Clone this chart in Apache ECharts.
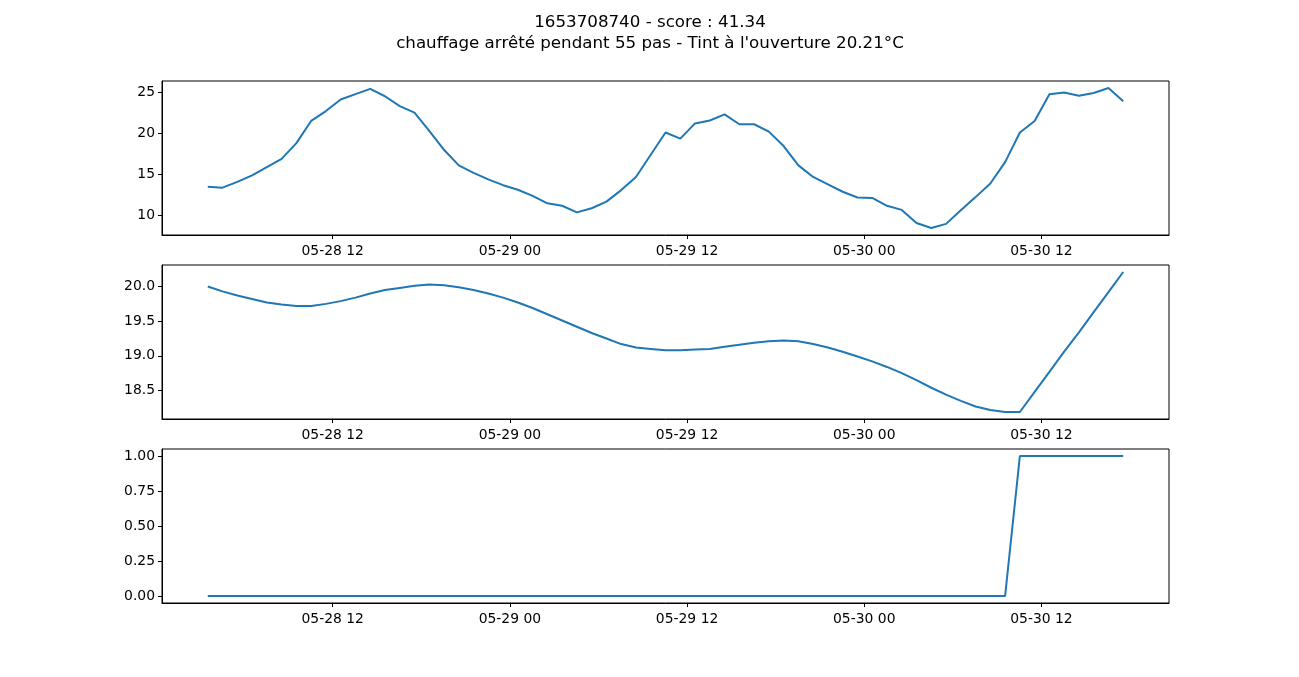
<!DOCTYPE html>
<html>
<head>
<meta charset="utf-8">
<script src="https://cdn.jsdelivr.net/npm/echarts@6/dist/echarts.min.js"></script>
<style>
html,body{margin:0;padding:0;background:#fff;}
#chart{width:1299px;height:677px;}
</style>
</head>
<body>
<div id="chart"></div>
<script>
// ---- data ----
const startTs = 1653708740 * 1000; // first sample (UTC)
const stepMs = 3600 * 1000;        // one step = 1 hour
const tempExt = [13.5,13.4,14.1,14.9,15.9,16.9,18.8,21.5,22.7,24.1,24.75,25.4,24.5,23.3,22.5,20.3,18.0,16.1,15.2,14.4,13.7,13.15,12.4,11.5,11.2,10.4,10.9,11.7,13.1,14.7,17.4,20.1,19.35,21.2,21.55,22.3,21.1,21.1,20.2,18.45,16.1,14.7,13.8,12.9,12.2,12.15,11.2,10.7,9.1,8.5,9.0,10.65,12.25,13.9,16.5,20.1,21.5,24.75,24.95,24.55,24.9,25.5,23.9];
const tempInt = [20.00,19.93,19.87,19.82,19.77,19.74,19.72,19.72,19.75,19.79,19.84,19.90,19.95,19.98,20.01,20.03,20.02,19.99,19.95,19.90,19.84,19.77,19.69,19.60,19.51,19.42,19.33,19.25,19.17,19.12,19.10,19.08,19.08,19.09,19.10,19.13,19.16,19.19,19.21,19.22,19.21,19.17,19.12,19.06,18.99,18.92,18.84,18.75,18.65,18.54,18.44,18.35,18.27,18.22,18.19,18.19,18.48,18.77,19.06,19.34,19.63,19.92,20.21];
const heating = [0,0,0,0,0,0,0,0,0,0,0,0,0,0,0,0,0,0,0,0,0,0,0,0,0,0,0,0,0,0,0,0,0,0,0,0,0,0,0,0,0,0,0,0,0,0,0,0,0,0,0,0,0,0,0,1,1,1,1,1,1,1,1];
const xTickValues = [Date.UTC(2022,4,28,12), Date.UTC(2022,4,29,0), Date.UTC(2022,4,29,12), Date.UTC(2022,4,30,0), Date.UTC(2022,4,30,12)];
const xTickLabels = ['05-28 12','05-29 00','05-29 12','05-30 00','05-30 12'];
const y1Ticks = [10,15,20,25];
const y2Ticks = [18.5,19.0,19.5,20.0];
const y3Ticks = [0,0.25,0.5,0.75,1.0];
const titleText = '1653708740 - score : 41.34\nchauffage arrêté pendant 55 pas - Tint à l\'ouverture 20.21°C';

// ---- build ----
const times = tempExt.map((_, i) => startTs + i * stepMs);
const pair = arr => arr.map((v, i) => [times[i], v]);
function padRange(arr){
  const mn = Math.min(...arr), mx = Math.max(...arr), p = (mx - mn) * 0.05;
  return [mn - p, mx + p];
}
const xMin = times[0] - (times[times.length-1]-times[0]) * 0.05;
const xMax = times[times.length-1] + (times[times.length-1]-times[0]) * 0.05;

const FONT = 'DejaVu Sans';
const FS = 13.9;
const tops = [81, 265, 449];
const H = 154;

const grids = tops.map(t => ({
  left: 162, top: t, width: 1007, height: H,
  show: true, borderColor: '#000', borderWidth: 1, backgroundColor: 'transparent'
}));

const xAxes = tops.map((t, k) => ({
  type: 'value', gridIndex: k, min: xMin, max: xMax,
  axisLine: {show: true, onZero: false, lineStyle: {color: '#000', width: 1}},
  axisTick: {show: true, inside: false, length: 4, lineStyle: {color: '#000'}, customValues: xTickValues},
  axisLabel: {show: true, margin: 9, color: '#000', fontFamily: FONT, fontSize: FS,
    customValues: xTickValues,
    formatter: v => { const j = xTickValues.indexOf(v); return j >= 0 ? xTickLabels[j] : ''; }},
  splitLine: {show: false}
}));

const yDefs = [
  {data: tempExt, ticks: y1Ticks, dec: 0},
  {data: tempInt, ticks: y2Ticks, dec: 1},
  {data: heating, ticks: y3Ticks, dec: 2}
];
const yAxes = yDefs.map((d, k) => {
  const r = padRange(d.data);
  return {
    type: 'value', gridIndex: k, min: r[0], max: r[1],
    axisLine: {show: true, lineStyle: {color: '#000', width: 1}},
    axisTick: {show: true, inside: false, length: 4, lineStyle: {color: '#000'}, customValues: d.ticks},
    axisLabel: {show: true, margin: 7, color: '#000', fontFamily: FONT, fontSize: FS,
      customValues: d.ticks, formatter: v => Number(v).toFixed(d.dec)},
    splitLine: {show: false}
  };
});

const series = yDefs.map((d, k) => ({
  type: 'line', xAxisIndex: k, yAxisIndex: k, data: pair(d.data),
  showSymbol: false, symbol: 'none', smooth: false,
  lineStyle: {color: '#1f77b4', width: 2}, itemStyle: {color: '#1f77b4'}
}));

const chart = echarts.init(document.getElementById('chart'), null, {renderer: 'canvas'});
chart.setOption({
  animation: false,
  backgroundColor: '#fff',
  title: {
    text: titleText, left: 645, top: 7, textAlign: 'center',
    textStyle: {fontFamily: FONT, fontSize: 16.7, fontWeight: 'normal', color: '#000', lineHeight: 21, align: 'center'}
  },
  grid: grids, xAxis: xAxes, yAxis: yAxes, series: series
});
</script>
</body>
</html>
